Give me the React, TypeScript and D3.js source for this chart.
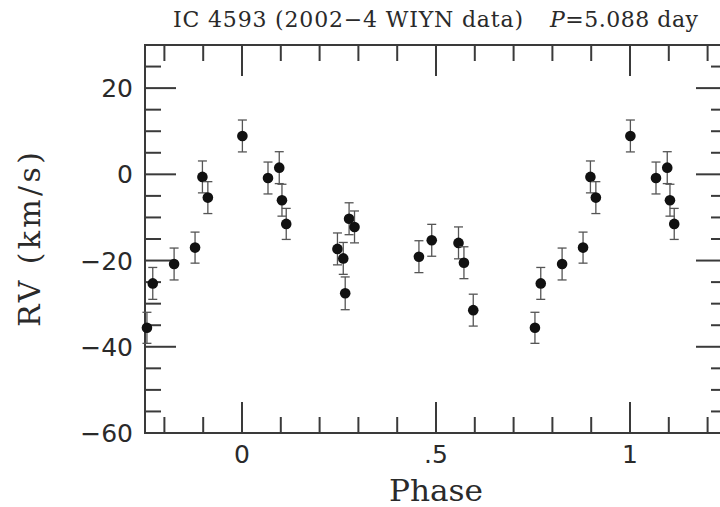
import React from "react";
import * as d3 from "d3";

const phases = [0.001, 0.067, 0.096, 0.103, 0.114, 0.246, 0.261, 0.266, 0.276, 0.290, 0.456, 0.489, 0.558, 0.572, 0.596, 0.755, 0.770, 0.825, 0.879, 0.898, 0.912];
const rvs = [8.9, -0.85, 1.55, -6.0, -11.5, -17.3, -19.5, -27.6, -10.3, -12.2, -19.1, -15.3, -15.9, -20.5, -31.5, -35.6, -25.3, -20.8, -17.0, -0.6, -5.4];
const errs = [3.7, 3.7, 3.7, 3.7, 3.6, 3.7, 3.7, 3.8, 3.7, 3.7, 3.7, 3.7, 3.7, 3.7, 3.7, 3.6, 3.7, 3.7, 3.6, 3.7, 3.7];

const xMajor = [0, 0.5, 1];
const xMajorLabels = ["0", ".5", "1"];
const yMajor = [-60, -40, -20, 0, 20];
const yMajorLabels = ["\u221260", "\u221240", "\u221220", "0", "20"];

const W = 720;
const H = 507;
const L = 145, R = 727, T = 45, B = 433;
const AX = "#3a3a3a";
const TXT = "#2a2a2a";

export default function App() {
  const x = d3.scaleLinear().domain([-0.25, 1.25]).range([L, R]);
  const y = d3.scaleLinear().domain([-60, 30]).range([B, T]);
  const xMinor = d3.range(-0.2, 1.25, 0.1).map((v) => Math.round(v * 10) / 10);
  const yMinor = d3.range(-55, 30, 5);

  const pts: { p: number; v: number; e: number }[] = [];
  phases.forEach((p, i) => {
    [-1, 0, 1].forEach((k) => {
      const pp = p + k;
      if (pp >= -0.25 && pp <= 1.25) pts.push({ p: pp, v: rvs[i], e: errs[i] });
    });
  });

  const isMajorX = (v: number) => xMajor.some((m) => Math.abs(m - v) < 1e-6);
  const isMajorY = (v: number) => yMajor.some((m) => Math.abs(m - v) < 1e-6);

  return (
    <svg width={W} height={H} style={{ position: "absolute", left: 0, top: 0, background: "#fff" }}>
      <rect x={L} y={T} width={R - L} height={B - T} fill="none" stroke={AX} strokeWidth={2} />
      {xMinor.map((v) => {
        const len = isMajorX(v) ? 31 : 16;
        return (
          <g key={"xt" + v}>
            <line x1={x(v)} x2={x(v)} y1={B} y2={B - len} stroke={AX} strokeWidth={2} />
            <line x1={x(v)} x2={x(v)} y1={T} y2={T + len} stroke={AX} strokeWidth={2} />
          </g>
        );
      })}
      {yMinor.map((v) => {
        const len = isMajorY(v) ? 31 : 16;
        return (
          <g key={"yt" + v}>
            <line x1={L} x2={L + len} y1={y(v)} y2={y(v)} stroke={AX} strokeWidth={2} />
            <line x1={R} x2={R - len} y1={y(v)} y2={y(v)} stroke={AX} strokeWidth={2} />
          </g>
        );
      })}
      {yMajor.map((v, i) => (
        <text key={"yl" + v} x={133} y={y(v) + 9} textAnchor="end" fontFamily="DejaVu Sans" fontSize={25} fill={TXT}>
          {yMajorLabels[i]}
        </text>
      ))}
      {xMajor.map((v, i) => (
        <text key={"xl" + v} x={x(v)} y={463} textAnchor="middle" fontFamily="DejaVu Sans" fontSize={25} fill={TXT}>
          {xMajorLabels[i]}
        </text>
      ))}
      {pts.map((d, i) => (
        <g key={"pt" + i}>
          <line x1={x(d.p)} x2={x(d.p)} y1={y(d.v - d.e)} y2={y(d.v + d.e)} stroke="#555" strokeWidth={1.3} />
          <line x1={x(d.p) - 4.5} x2={x(d.p) + 4.5} y1={y(d.v - d.e)} y2={y(d.v - d.e)} stroke="#555" strokeWidth={1.3} />
          <line x1={x(d.p) - 4.5} x2={x(d.p) + 4.5} y1={y(d.v + d.e)} y2={y(d.v + d.e)} stroke="#555" strokeWidth={1.3} />
          <circle cx={x(d.p)} cy={y(d.v)} r={5.3} fill="#111" />
        </g>
      ))}
      <text x={(L + R) / 2} y={501} textAnchor="middle" fontFamily="DejaVu Serif" fontSize={29} fill={TXT} textLength={94} lengthAdjust="spacingAndGlyphs">
        Phase
      </text>
      <text
        transform={`translate(40, ${(152 + 327) / 2}) rotate(-90)`}
        textAnchor="middle"
        fontFamily="DejaVu Serif"
        fontSize={30}
        fill={TXT}
        textLength={175}
        lengthAdjust="spacing"
      >
        RV (km/s)
      </text>
      <text x={173} y={27} fontFamily="DejaVu Serif" fontSize={22} fill={TXT} textLength={350} lengthAdjust="spacing">
        IC 4593 (2002{"\u2212"}4 WIYN data)
      </text>
      <text x={550} y={27} fontFamily="DejaVu Serif" fontSize={22} fill={TXT} textLength={148} lengthAdjust="spacing">
        <tspan fontStyle="italic">P</tspan>=5.088 day
      </text>
    </svg>
  );
}
